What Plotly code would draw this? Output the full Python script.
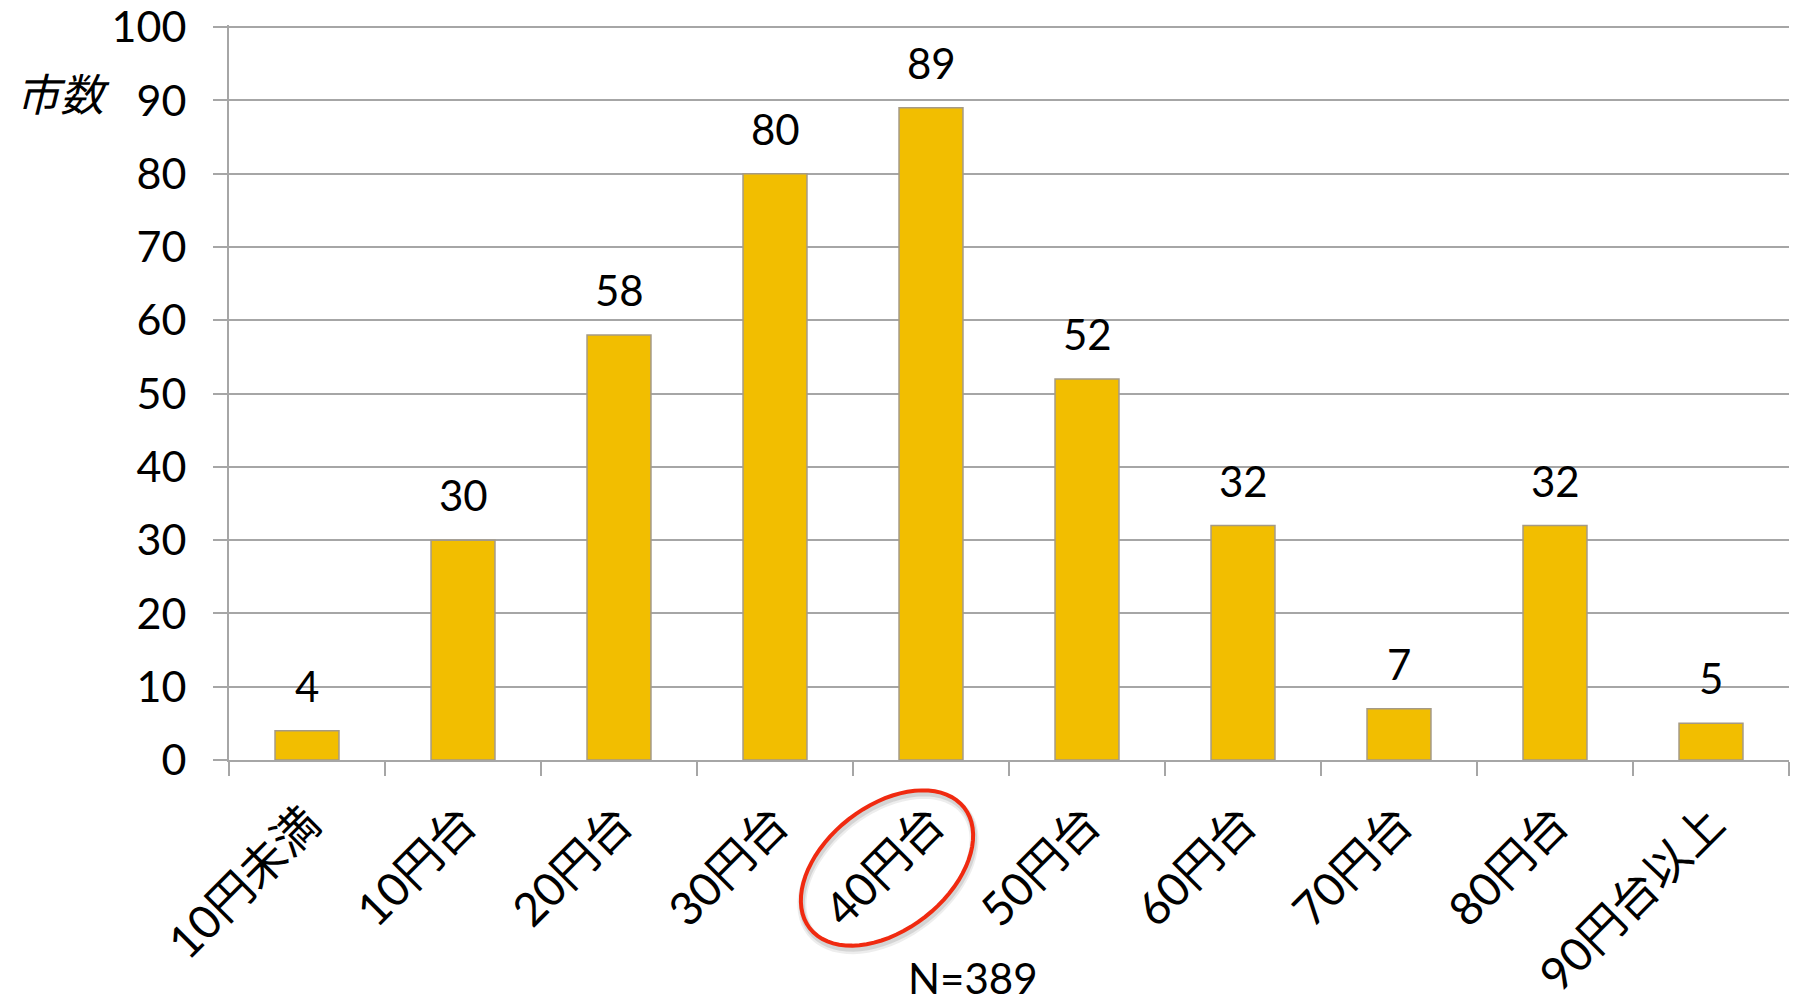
import math
import plotly.graph_objects as go

categories = ["10円未満", "10円台", "20円台", "30円台", "40円台", "50円台", "60円台", "70円台", "80円台", "90円台以上"]
counts = [4, 30, 58, 80, 89, 52, 32, 7, 32, 5]
y_ticks = [0, 10, 20, 30, 40, 50, 60, 70, 80, 90, 100]
y_title = "市数"
note_text = "N=389"
highlight = "40円台"

W, H = 1799, 1005
ML, MR, MT, MB = 229, 10, 25, 245
PW, PH = W - ML - MR, H - MT - MB

FONT = "Lato, 'Noto Sans CJK JP', sans-serif"
GRID = "#a6a6a6"

fig = go.Figure()
fig.add_trace(go.Bar(
    x=categories, y=counts,
    marker=dict(color="#f2be00", line=dict(color="#a59a86", width=1.5)),
    width=0.41,
    hoverinfo="x+y",
))

# value labels above bars
for c, v in zip(categories, counts):
    fig.add_annotation(x=c, y=v, text=str(v), showarrow=False,
                       xref="x", yref="y", yanchor="bottom", yshift=18,
                       font=dict(family=FONT, size=42, color="#000"))

# y-axis title (horizontal, italic)
fig.add_annotation(x=(63 - ML) / PW, y=(H - MB - 92) / PH, xref="paper", yref="paper",
                   text=y_title, showarrow=False, xanchor="center", yanchor="middle",
                   font=dict(family="'Noto Sans CJK JP', sans-serif", size=44, color="#000", style="italic"))

# N note
fig.add_annotation(x=(973 - ML) / PW, y=(H - MB - 978) / PH, xref="paper", yref="paper",
                   text=note_text, showarrow=False, xanchor="center", yanchor="middle",
                   font=dict(family=FONT, size=42, color="#000"))

# red ellipse around highlighted tick label (pixel geometry -> paper coords)
hi = categories.index(highlight)
cat_px = ML + (hi + 0.5) * PW / len(categories)
ecx, ecy = cat_px - 44, (H - MB) + 108   # screen pixels
a, b, th = 98, 62, math.radians(38)
def ellipse_path(dx=0.0, dy=0.0):
    parts = []
    for i in range(73):
        t = 2 * math.pi * i / 72
        ex, ey = a * math.cos(t), b * math.sin(t)
        sx = ecx + dx + ex * math.cos(th) - ey * math.sin(th)
        sy = ecy + dy - (ex * math.sin(th) + ey * math.cos(th))
        parts.append(f"{(sx - ML) / PW:.5f},{(H - MB - sy) / PH:.5f}")
    return "M " + " L ".join(parts) + " Z"
for w, col, d in [(9, "rgba(0,0,0,0.07)", 4), (6, "rgba(0,0,0,0.10)", 3)]:
    fig.add_shape(type="path", path=ellipse_path(1, d), xref="paper", yref="paper",
                  line=dict(color=col, width=w), layer="above")
fig.add_shape(type="path", path=ellipse_path(), xref="paper", yref="paper",
              line=dict(color="#f02a10", width=4), layer="above")

fig.update_layout(
    width=W, height=H,
    margin=dict(l=ML, r=MR, t=MT, b=MB, autoexpand=False),
    paper_bgcolor="white", plot_bgcolor="white",
    showlegend=False,
    font=dict(family=FONT, size=42, color="#000"),
    xaxis=dict(
        type="category", tickangle=-45, tickson="boundaries",
        ticks="outside", ticklen=14, tickwidth=2, tickcolor=GRID,
        showline=True, linecolor=GRID, linewidth=2,
        showgrid=False, tickfont=dict(family=FONT, size=46, color="#000"),
        ticklabelstandoff=16,
        range=[-0.5, len(categories) - 0.5],
    ),
    yaxis=dict(
        range=[0, 100.3], tickmode="array", tickvals=y_ticks, ticktext=[str(t) for t in y_ticks],
        ticks="outside", ticklen=14, tickwidth=2, tickcolor=GRID,
        showline=True, linecolor=GRID, linewidth=2,
        showgrid=True, gridcolor=GRID, gridwidth=2, zeroline=False,
        tickfont=dict(family=FONT, size=43, color="#000"),
        ticklabelstandoff=18,
    ),
)

fig.write_html("out.html")
